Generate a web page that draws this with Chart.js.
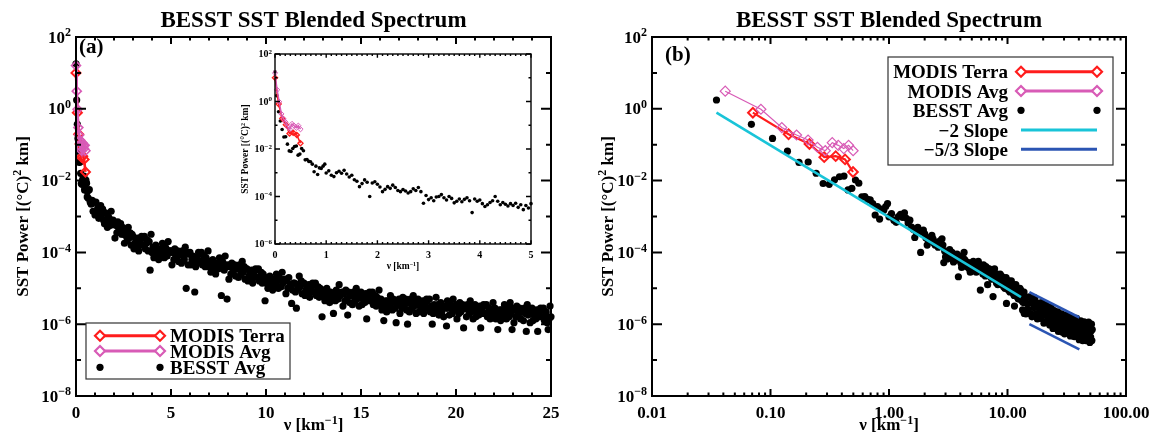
<!DOCTYPE html>
<html>
<head>
<meta charset="utf-8">
<script src="https://cdn.jsdelivr.net/npm/chart.js@4.4.1/dist/chart.umd.min.js"></script>
<style>
  html, body { margin: 0; padding: 0; background: #fff; }
  #wrap { position: relative; width: 1156px; height: 443px; overflow: hidden; }
  canvas { position: absolute; }
</style>
</head>
<body>
<div id="wrap">
  <canvas id="left" width="578" height="443" style="left:0;top:0"></canvas>
  <canvas id="right" width="578" height="443" style="left:578px;top:0"></canvas>
  <canvas id="inset" width="310" height="236" style="left:232px;top:44px"></canvas>
</div>
<script>
const SERIF = '"Liberation Serif", "Times New Roman", serif';
const RED = '#ff1c1c';
const PINK = '#d85bb6';
const CYAN = '#19c4d8';
const BLUE = '#2b55b3';

// MODIS spectra [nu (1/km), power]
const modisTerra = [[0, 10], [0.071, 0.78], [0.142, 0.195], [0.213, 0.105], [0.284, 0.045],
  [0.355, 0.048], [0.426, 0.039], [0.497, 0.0174]];
const modisAvg = [[0, 16], [0.0415, 3.1], [0.083, 0.97], [0.1245, 0.3], [0.166, 0.186],
  [0.2075, 0.135], [0.249, 0.085], [0.29, 0.068], [0.332, 0.114], [0.373, 0.096],
  [0.415, 0.078], [0.456, 0.096], [0.498, 0.068]];

// BESST average spectrum, as shown in panel (b) and the inset
const besstAvg = [
  [0, 18], [0.035, 1.76], [0.069, 0.37], [0.104, 0.15], [0.139, 0.066], [0.174, 0.032],
  [0.208, 0.033], [0.243, 0.016], [0.278, 0.0083], [0.313, 0.0079], [0.347, 0.0105],
  [0.382, 0.0128], [0.417, 0.0134], [0.451, 0.0055], [0.486, 0.0061], [0.521, 0.0104],
  [0.556, 0.0085], [0.590, 0.0035], [0.625, 0.0036], [0.660, 0.0030], [0.694, 0.0029],
  [0.729, 0.0023], [0.764, 0.0011], [0.799, 0.0019], [0.833, 0.00085], [0.868, 0.0016],
  [0.903, 0.0015], [0.938, 0.0019], [0.972, 0.0023],
  [1.00, 9.8e-4], [1.05, 1.2e-3], [1.10, 7.9e-4], [1.15, 6.9e-4], [1.20, 1.0e-3],
  [1.25, 1.15e-3], [1.30, 9.5e-4], [1.35, 1.26e-3], [1.40, 8.9e-4], [1.45, 6.6e-4],
  [1.50, 7.9e-4], [1.55, 5.1e-4], [1.60, 4.4e-4], [1.65, 2.6e-4], [1.70, 3.5e-4],
  [1.75, 5.0e-4], [1.80, 4.0e-4], [1.85, 1.0e-4], [1.90, 3.7e-4], [1.95, 4.2e-4],
  [2.00, 3.3e-4], [2.05, 2.5e-4], [2.10, 1.6e-4], [2.15, 2.0e-4], [2.20, 2.6e-4],
  [2.25, 2.2e-4], [2.30, 3.0e-4], [2.35, 2.4e-4], [2.40, 1.8e-4], [2.45, 1.6e-4],
  [2.50, 1.95e-4], [2.55, 1.7e-4], [2.60, 1.4e-4], [2.65, 1.6e-4], [2.70, 2.1e-4],
  [2.75, 1.8e-4], [2.80, 2.4e-4], [2.85, 1.6e-4], [2.90, 5.2e-5], [2.95, 1.1e-4],
  [3.00, 7.4e-5], [3.05, 8.9e-5], [3.10, 6.6e-5], [3.15, 9.5e-5], [3.20, 1.0e-4],
  [3.25, 1.2e-4], [3.30, 8.9e-5], [3.35, 7.1e-5], [3.40, 1.0e-4], [3.45, 8.3e-5],
  [3.50, 5.4e-5], [3.55, 6.3e-5], [3.60, 7.9e-5], [3.65, 6.0e-5], [3.70, 7.6e-5],
  [3.75, 8.9e-5], [3.80, 6.6e-5], [3.85, 2.1e-5], [3.90, 7.9e-5], [3.95, 6.3e-5],
  [4.00, 7.1e-5], [4.05, 5.0e-5], [4.10, 3.8e-5], [4.15, 4.5e-5], [4.20, 5.6e-5],
  [4.25, 6.6e-5], [4.30, 1.0e-4], [4.35, 6.3e-5], [4.40, 4.5e-5], [4.45, 5.6e-5],
  [4.50, 4.7e-5], [4.55, 4.0e-5], [4.60, 5.0e-5], [4.65, 4.2e-5], [4.70, 5.2e-5],
  [4.75, 3.5e-5], [4.80, 4.5e-5], [4.85, 2.8e-5], [4.90, 4.2e-5], [4.95, 3.3e-5],
  [5.000, 5.0e-5], [5.075, 3.5e-5], [5.150, 5.6e-5], [5.225, 3.2e-5], [5.300, 4.0e-5],
  [5.375, 4.5e-5], [5.450, 2.8e-5], [5.525, 5.0e-5], [5.600, 3.5e-5], [5.675, 5.6e-5],
  [5.750, 3.2e-5], [5.825, 4.5e-5], [5.900, 8.9e-6], [5.975, 3.2e-5],
  [6.050, 3.2e-5], [6.125, 4.0e-5], [6.200, 2.5e-5], [6.275, 4.5e-5], [6.350, 2.8e-5],
  [6.425, 3.5e-5], [6.500, 2.2e-5], [6.575, 4.0e-5], [6.650, 3.2e-5], [6.725, 2.5e-5],
  [6.800, 1.26e-5], [6.875, 3.5e-5], [6.950, 2.8e-5],
  [7.025, 3.5e-5], [7.100, 2.2e-5], [7.175, 2.8e-5], [7.250, 2.0e-5], [7.325, 3.2e-5],
  [7.400, 1.8e-5], [7.475, 2.5e-5], [7.550, 5.9e-6], [7.625, 3.2e-5], [7.700, 2.2e-5],
  [7.775, 3.5e-5], [7.850, 2.0e-5], [7.925, 2.5e-5],
  [8.000, 2.0e-5], [8.075, 1.4e-5], [8.150, 2.5e-5], [8.225, 1.8e-5], [8.300, 1.26e-5],
  [8.375, 2.2e-5], [8.450, 1.6e-5], [8.525, 2.0e-5], [8.600, 1.4e-5], [8.675, 2.5e-5],
  [8.750, 1.6e-5], [8.825, 1.8e-5], [8.900, 2.2e-5], [8.975, 1.26e-5],
  [9.050, 1.8e-5], [9.125, 1.26e-5], [9.200, 2.0e-5], [9.275, 1.1e-5], [9.350, 1.4e-5],
  [9.425, 1.6e-5], [9.500, 1.0e-5], [9.575, 1.8e-5], [9.650, 1.26e-5], [9.725, 2.0e-5],
  [9.800, 3.8e-6], [9.875, 1.1e-5], [9.950, 1.6e-5],
  [10.025, 1.1e-5], [10.100, 1.4e-5], [10.175, 8.9e-6], [10.250, 1.6e-5], [10.325, 1.0e-5],
  [10.400, 1.26e-5], [10.475, 7.9e-6], [10.550, 1.4e-5], [10.625, 1.1e-5], [10.700, 8.9e-6],
  [10.775, 1.6e-5], [10.850, 1.0e-5], [10.925, 1.26e-5],
  [11.000, 1.26e-5], [11.075, 7.9e-6], [11.150, 1.0e-5], [11.225, 7.1e-6], [11.300, 1.1e-5],
  [11.375, 6.3e-6], [11.450, 3.2e-6], [11.525, 8.9e-6], [11.600, 1.1e-5], [11.675, 7.9e-6],
  [11.750, 1.26e-5], [11.825, 7.1e-6], [11.900, 8.9e-6], [11.975, 1.0e-5],
  [12.050, 7.9e-6], [12.125, 5.6e-6], [12.200, 1.0e-5], [12.275, 7.1e-6], [12.350, 5.0e-6],
  [12.425, 8.9e-6], [12.500, 6.3e-6], [12.575, 7.9e-6], [12.650, 5.6e-6], [12.725, 1.0e-5],
  [12.800, 6.3e-6], [12.875, 7.1e-6], [12.950, 8.9e-6],
  [13.025, 7.1e-6], [13.100, 5.0e-6], [13.175, 7.9e-6], [13.250, 4.5e-6], [13.325, 5.6e-6],
  [13.400, 2.5e-6], [13.475, 6.3e-6], [13.550, 4.0e-6], [13.625, 7.1e-6], [13.700, 5.0e-6],
  [13.775, 7.9e-6], [13.850, 2.0e-6], [13.925, 4.5e-6],
  [14.0, 5.6e-6], [14.3, 1.95e-6], [14.6, 3.8e-6], [14.9, 2.6e-6], [15.2, 5.75e-6],
  [15.5, 2.0e-6], [15.8, 3.9e-6], [16.1, 1.6e-6], [16.4, 4.2e-6], [16.7, 2.9e-6],
  [17.0, 5.4e-6], [17.3, 1.95e-6], [17.6, 3.0e-6], [17.9, 1.4e-6], [18.2, 3.9e-6],
  [18.5, 2.1e-6], [18.8, 3.1e-6], [19.1, 1.45e-6], [19.4, 4.0e-6], [19.7, 1.74e-6],
  [20.0, 2.5e-6], [20.3, 1.07e-6], [20.6, 3.0e-6], [20.9, 1.95e-6], [21.2, 3.5e-6],
  [21.5, 1.23e-6], [21.8, 2.3e-6], [22.1, 1.48e-6], [22.4, 2.9e-6], [22.7, 9.5e-7],
  [23.0, 1.86e-6], [23.3, 3.0e-6], [23.6, 1.17e-6], [23.9, 2.1e-6], [24.2, 7.6e-7],
  [24.5, 1.48e-6], [24.8, 2.4e-6], [25.1, 9.5e-7], [25.4, 1.66e-6], [25.7, 7.8e-7],
  [26.0, 2.0e-6], [26.3, 1.1e-6], [26.6, 2.2e-6], [26.9, 6.3e-7], [27.2, 1.4e-6],
  [27.5, 8.7e-7], [27.8, 1.7e-6], [28.1, 7.1e-7], [28.4, 1.1e-6], [28.7, 1.95e-6],
  [29.0, 6.0e-7], [29.3, 1.4e-6], [29.6, 8.7e-7], [29.9, 1.74e-6],
  [30.3, 5.4e-7], [30.7, 1.29e-6], [31.1, 1.8e-6], [31.5, 6.9e-7], [31.9, 1.07e-6],
  [32.3, 5.75e-7], [32.7, 1.48e-6], [33.1, 8.3e-7], [33.5, 1.74e-6], [33.9, 4.7e-7],
  [34.3, 1.17e-6], [34.7, 6.9e-7], [35.1, 1.4e-6], [35.5, 5.4e-7], [35.9, 9.3e-7],
  [36.3, 1.45e-6], [36.7, 4.5e-7], [37.1, 7.6e-7], [37.5, 1.17e-6], [37.9, 5.5e-7],
  [38.3, 1.45e-6], [38.7, 4.6e-7], [39.1, 8.9e-7], [39.5, 6.0e-7], [39.9, 1.2e-6],
  [40.3, 3.7e-7], [40.7, 9.5e-7], [41.1, 5.25e-7], [41.5, 1.23e-6], [41.9, 4.3e-7],
  [42.3, 6.9e-7], [42.7, 1.05e-6], [43.1, 3.5e-7], [43.5, 8.1e-7], [43.9, 5.1e-7],
  [44.3, 1.17e-6], [44.7, 4.2e-7], [45.1, 7.1e-7], [45.5, 9.8e-7], [45.9, 3.5e-7],
  [46.3, 5.6e-7], [46.7, 1.07e-6], [47.1, 4.3e-7], [47.5, 7.9e-7], [47.9, 3.6e-7],
  [48.3, 1.15e-6], [48.7, 5.25e-7], [49.1, 8.3e-7], [49.5, 3.1e-7], [49.9, 9.5e-7],
  [50.3, 4.4e-7], [50.7, 6.5e-7], [51.1, 1.0e-6], [51.5, 3.5e-7], [51.9, 7.1e-7]
];

// BESST average as drawn in panel (a): power in 0.05 1/km bins, 0.60 ... 25.00
const panelANuStart = 0.6;
const panelANuStep = 0.05;
const panelAPower = [
  5.0e-3, 3.2e-3, 5.6e-3, 2.5e-3, 2.2e-3, 2.8e-3, 1.4e-3, 2.5e-3,
  1.1e-3, 2.5e-3, 1.26e-3, 1.8e-3, 8.9e-4, 1.4e-3, 2.0e-3, 1.1e-3, 1.6e-3, 7.9e-4, 6.3e-4, 1.26e-3, 7.9e-4, 5.0e-4, 1.0e-3, 8.9e-4, 5.6e-4, 1.4e-3, 7.1e-4, 7.9e-4,
  6.3e-4, 2.5e-4, 5.6e-4, 3.5e-4, 7.1e-4, 4.0e-4, 4.5e-4, 6.3e-4, 3.2e-4, 5.0e-4, 3.2e-4, 1.8e-4, 4.0e-4, 2.8e-4, 2.2e-4, 5.0e-4, 2.5e-4, 3.5e-4, 1.6e-4, 3.2e-4,
  2.8e-4, 1.26e-4, 1.8e-4, 2.2e-4, 1.4e-4, 2.5e-4, 1.1e-4, 2.0e-4, 1.6e-4, 2.8e-4, 2.5e-4, 1.6e-4, 2.8e-4, 1.26e-4, 1.8e-4, 2.2e-4, 1.1e-4, 2.0e-4, 3.2e-5, 3.2e-4,
  1.0e-4, 1.4e-4, 7.1e-5, 1.1e-4, 1.6e-4, 8.9e-5, 1.26e-4, 6.3e-5, 1.26e-4, 1.1e-4, 8.9e-5, 1.8e-4, 1.1e-4, 7.1e-5, 1.4e-4, 1.26e-4, 7.9e-5, 2.0e-4, 1.0e-4, 1.1e-4,
  1.1e-4, 4.5e-5, 1.0e-4, 6.3e-5, 1.26e-4, 7.1e-5, 7.9e-5, 1.1e-4, 5.6e-5, 8.9e-5, 8.9e-5, 5.0e-5, 1.1e-4, 7.9e-5, 6.3e-5, 1.4e-4, 1.0e-5, 1.0e-4, 4.5e-5, 8.9e-5,
  1.0e-4, 4.5e-5, 6.3e-5, 7.9e-5, 5.0e-5, 7.9e-6, 4.0e-5, 7.1e-5, 5.6e-5, 1.0e-4, 8.9e-5, 5.6e-5, 1.0e-4, 4.5e-5, 6.3e-5, 7.9e-5, 4.0e-5, 7.1e-5, 5.0e-5, 1.1e-4,
  4.0e-5, 5.6e-5, 2.8e-5, 4.5e-5, 6.3e-5, 3.5e-5, 5.0e-5, 2.5e-5, 5.0e-5, 4.5e-5, 3.5e-5, 7.1e-5, 4.5e-5, 6.3e-6, 5.6e-5, 5.0e-5, 3.2e-5, 7.9e-5, 4.0e-5, 5.0e-6,
  4.5e-5, 1.8e-5, 4.0e-5, 2.5e-5, 5.0e-5, 2.8e-5, 3.2e-5, 4.5e-5, 2.2e-5, 3.5e-5, 3.5e-5, 2.0e-5, 4.5e-5, 3.2e-5, 2.5e-5, 5.6e-5, 2.8e-5, 4.0e-5, 1.8e-5, 3.5e-5,
  3.5e-5, 1.6e-5, 2.2e-5, 2.8e-5, 1.8e-5, 3.2e-5, 1.4e-5, 2.5e-5, 2.0e-5, 3.5e-5, 3.2e-5, 2.0e-5, 3.5e-5, 1.6e-5, 2.2e-5, 2.8e-5, 1.4e-5, 2.5e-5, 1.8e-5, 4.5e-6,
  1.4e-5, 2.0e-5, 1.0e-5, 1.6e-5, 2.2e-5, 1.26e-5, 1.8e-5, 8.9e-6, 1.8e-5, 1.6e-5, 1.26e-5, 2.5e-5, 1.6e-5, 1.0e-5, 2.0e-5, 1.8e-5, 1.1e-5, 2.8e-5, 1.4e-5, 1.6e-5,
  1.8e-5, 7.1e-6, 1.6e-5, 1.0e-5, 2.0e-5, 1.1e-5, 1.26e-5, 3.8e-6, 8.9e-6, 1.4e-5, 1.4e-5, 7.9e-6, 2.8e-6, 1.26e-5, 1.0e-5, 2.2e-5, 1.1e-5, 1.6e-5, 7.1e-6, 1.4e-5,
  1.4e-5, 6.3e-6, 8.9e-6, 1.1e-5, 7.1e-6, 1.26e-5, 5.6e-6, 1.0e-5, 7.9e-6, 1.4e-5, 1.26e-5, 7.9e-6, 1.4e-5, 6.3e-6, 8.9e-6, 1.1e-5, 5.6e-6, 1.0e-5, 7.1e-6, 1.6e-6,
  6.3e-6, 8.9e-6, 4.5e-6, 7.1e-6, 1.0e-5, 5.6e-6, 7.9e-6, 4.0e-6, 7.9e-6, 7.1e-6, 5.6e-6, 2.0e-6, 7.1e-6, 4.5e-6, 8.9e-6, 7.9e-6, 5.0e-6, 1.26e-5, 6.3e-6, 7.1e-6,
  7.9e-6, 3.2e-6, 7.1e-6, 4.5e-6, 8.9e-6, 5.0e-6, 1.8e-6, 7.9e-6, 4.0e-6, 6.3e-6, 6.3e-6, 3.5e-6, 7.9e-6, 5.6e-6, 4.5e-6, 1.0e-5, 5.0e-6, 7.1e-6, 3.2e-6, 6.3e-6,
  7.9e-6, 3.5e-6, 5.0e-6, 6.3e-6, 4.0e-6, 7.1e-6, 1.4e-6, 5.6e-6, 4.5e-6, 7.9e-6, 7.1e-6, 4.5e-6, 7.9e-6, 3.5e-6, 5.0e-6, 6.3e-6, 3.2e-6, 5.6e-6, 4.0e-6, 8.9e-6,
  3.5e-6, 5.0e-6, 2.5e-6, 4.0e-6, 1.26e-6, 3.2e-6, 4.5e-6, 2.2e-6, 4.5e-6, 4.0e-6, 3.2e-6, 6.3e-6, 4.0e-6, 2.5e-6, 5.0e-6, 4.5e-6, 2.8e-6, 1.1e-6, 3.5e-6, 4.0e-6,
  5.0e-6, 2.0e-6, 4.5e-6, 2.8e-6, 5.6e-6, 3.2e-6, 3.5e-6, 5.0e-6, 2.5e-6, 1.0e-6, 4.0e-6, 2.2e-6, 5.0e-6, 3.5e-6, 2.8e-6, 6.3e-6, 3.2e-6, 4.5e-6, 2.0e-6, 4.0e-6,
  5.0e-6, 2.2e-6, 3.2e-6, 4.0e-6, 2.5e-6, 4.5e-6, 2.0e-6, 3.5e-6, 2.8e-6, 5.0e-6, 4.5e-6, 2.8e-6, 5.0e-6, 2.2e-6, 3.2e-6, 1.0e-6, 2.0e-6, 3.5e-6, 2.5e-6, 5.6e-6,
  2.5e-6, 3.5e-6, 1.8e-6, 2.8e-6, 4.0e-6, 2.2e-6, 3.2e-6, 1.6e-6, 3.2e-6, 2.8e-6, 8.9e-7, 4.5e-6, 2.8e-6, 1.8e-6, 3.5e-6, 3.2e-6, 2.0e-6, 5.0e-6, 2.5e-6, 2.8e-6,
  3.5e-6, 1.4e-6, 3.2e-6, 2.0e-6, 4.0e-6, 2.2e-6, 2.5e-6, 3.5e-6, 7.9e-7, 2.8e-6, 2.8e-6, 1.6e-6, 3.5e-6, 2.5e-6, 2.0e-6, 4.5e-6, 2.2e-6, 3.2e-6, 1.4e-6, 2.8e-6,
  3.5e-6, 1.6e-6, 2.2e-6, 2.8e-6, 1.8e-6, 3.2e-6, 7.9e-7, 2.5e-6, 2.0e-6, 3.5e-6, 3.2e-6, 2.0e-6, 3.5e-6, 1.6e-6, 2.2e-6, 2.8e-6, 1.4e-6, 2.5e-6, 1.8e-6, 4.0e-6,
  2.0e-6, 2.8e-6, 1.4e-6, 2.2e-6, 7.1e-7, 1.8e-6, 2.5e-6, 1.26e-6, 2.5e-6, 2.2e-6, 1.8e-6, 3.5e-6, 2.2e-6, 1.4e-6, 2.8e-6, 2.5e-6, 1.6e-6, 4.0e-6, 2.0e-6, 7.1e-7,
  2.8e-6, 1.1e-6, 2.5e-6, 1.6e-6, 3.2e-6, 1.8e-6, 2.0e-6, 2.8e-6, 1.4e-6, 2.2e-6, 2.2e-6, 1.26e-6, 2.8e-6, 2.0e-6, 6.3e-7, 3.5e-6, 1.8e-6, 2.5e-6, 1.1e-6, 2.2e-6,
  2.8e-6, 1.26e-6, 1.8e-6, 2.2e-6, 1.4e-6, 2.5e-6, 6.3e-7, 2.0e-6, 1.6e-6, 2.8e-6, 2.5e-6, 1.6e-6, 2.8e-6, 1.26e-6, 1.8e-6, 2.2e-6, 1.1e-6, 7.1e-7, 1.4e-6, 3.2e-6,
  1.6e-6
];

// reference power laws (end points)
const slopeMinus2 = [[0.035, 0.78], [13, 5.65e-6]];
const slopeMinus53Upper = [[15.3, 7.8e-6], [40.4, 1.54e-6]];
const slopeMinus53Lower = [[15.3, 1.0e-6], [40.4, 1.98e-7]];

// ticks
const linTicks = [0, 5, 10, 15, 20, 25];
const insetTicks = [0, 1, 2, 3, 4, 5];
const logTicks = [0.01, 0.1, 1, 10, 100];
const logTickLabels = ['0.01', '0.10', '1.00', '10.00', '100.00'];
const powerExps = [2, 0, -2, -4, -6, -8];
const powerMinorExps = [1, -1, -3, -5, -7];
const insetPowerExps = [2, 0, -2, -4, -6];
const insetPowerMinorExps = [1, -1, -3, -5];

const pts = arr => arr.map(([x, y]) => ({ x, y }));

function rich(ctx, parts, x, y, size, align) {
  const sub = Math.round(size * 0.68);
  const widths = parts.map(p => {
    const s = typeof p === 'string';
    ctx.font = `bold ${s ? size : sub}px ${SERIF}`;
    return ctx.measureText(s ? p : p.sup).width;
  });
  const total = widths.reduce((a, b) => a + b, 0);
  let cx = align === 'right' ? x - total : align === 'center' ? x - total / 2 : x;
  ctx.textAlign = 'left';
  ctx.textBaseline = 'alphabetic';
  parts.forEach((p, i) => {
    const s = typeof p === 'string';
    ctx.font = `bold ${s ? size : sub}px ${SERIF}`;
    ctx.fillText(s ? p : p.sup, cx, s ? y : y - size * 0.36);
    cx += widths[i];
  });
}

const expText = e => (e < 0 ? '\u2212' + (-e) : String(e));
const xTitle = ['\u03bd [km', { sup: '\u22121' }, ']'];
const yTitle = ['SST Power [(\u00b0C)', { sup: '2' }, ' km]'];

function diamond(ctx, x, y, r, color, lw) {
  ctx.beginPath();
  ctx.moveTo(x, y - r); ctx.lineTo(x + r, y); ctx.lineTo(x, y + r); ctx.lineTo(x - r, y);
  ctx.closePath();
  ctx.fillStyle = '#fff'; ctx.fill();
  ctx.strokeStyle = color; ctx.lineWidth = lw; ctx.stroke();
}

function legendSample(ctx, kind, x1, x2, y) {
  ctx.save();
  if (kind === 'dot') {
    ctx.fillStyle = '#000';
    [x1, x2].forEach(x => { ctx.beginPath(); ctx.arc(x, y, 3.6, 0, Math.PI * 2); ctx.fill(); });
  } else {
    const color = { terra: RED, avg: PINK, cyan: CYAN, blue: BLUE }[kind];
    ctx.strokeStyle = color; ctx.lineWidth = 3;
    ctx.beginPath(); ctx.moveTo(x1, y); ctx.lineTo(x2, y); ctx.stroke();
    if (kind === 'terra' || kind === 'avg') {
      diamond(ctx, x1, y, 5, color, 2.2);
      diamond(ctx, x2, y, 5, color, 2.2);
    }
  }
  ctx.restore();
}

function framePlugin(cfg) {
  return {
    id: 'frame',
    afterDraw(chart) {
      const { ctx, chartArea: a } = chart;
      const xs = chart.scales.x, ys = chart.scales.y;
      ctx.save();
      ctx.strokeStyle = '#000';
      ctx.fillStyle = '#000';
      ctx.lineWidth = cfg.lw;
      ctx.beginPath();
      const seg = (x1, y1, x2, y2) => { ctx.moveTo(x1, y1); ctx.lineTo(x2, y2); };
      const xt = (v, len) => { const p = xs.getPixelForValue(v); seg(p, a.bottom, p, a.bottom - len); seg(p, a.top, p, a.top + len); };
      const yt = (v, len) => { const p = ys.getPixelForValue(v); seg(a.left, p, a.left + len, p); seg(a.right, p, a.right - len, p); };
      cfg.xMajor.forEach(v => xt(v, cfg.xLen));
      cfg.xMinor.forEach(v => xt(v, cfg.xLen / 2));
      cfg.yMajor.forEach(e => yt(Math.pow(10, e), cfg.yLen));
      cfg.yMinor.forEach(e => yt(Math.pow(10, e), cfg.yLen / 2));
      ctx.stroke();
      ctx.strokeRect(a.left, a.top, a.right - a.left, a.bottom - a.top);

      cfg.xMajor.forEach((v, i) => rich(ctx, [cfg.xLabels[i]], xs.getPixelForValue(v), a.bottom + cfg.xLabelDy, cfg.fs, 'center'));
      cfg.yMajor.forEach(e => rich(ctx, ['10', { sup: expText(e) }], a.left - cfg.yGap,
        ys.getPixelForValue(Math.pow(10, e)) + cfg.fs * 0.33, cfg.fs, 'right'));

      rich(ctx, xTitle, (a.left + a.right) / 2, cfg.xTitleY, cfg.titleFs, 'center');
      ctx.save();
      ctx.translate(cfg.yTitleX, (a.top + a.bottom) / 2);
      ctx.rotate(-Math.PI / 2);
      rich(ctx, yTitle, 0, cfg.titleFs * 0.33, cfg.titleFs, 'center');
      ctx.restore();

      if (cfg.extra) cfg.extra(ctx, a);
      ctx.restore();
    }
  };
}

function dotSet(data, r) {
  return { data: pts(data), showLine: false, pointRadius: r, pointHoverRadius: r,
    pointBackgroundColor: '#000', pointBorderColor: '#000', pointBorderWidth: 0, clip: false };
}
function modisSet(data, color, lw, r, pbw) {
  return { data: pts(data), showLine: true, borderColor: color, borderWidth: lw,
    pointStyle: 'rectRot', pointRadius: r, pointHoverRadius: r, pointBorderColor: color,
    pointBorderWidth: pbw, pointBackgroundColor: 'rgba(255,255,255,0)', clip: false };
}
function slopeSet(data, color) {
  return { data: pts(data), showLine: true, borderColor: color, borderWidth: 2.6,
    pointRadius: 0, clip: false };
}
function baseOptions(padding, xScale, yScale) {
  return {
    responsive: false, animation: false, events: [],
    layout: { padding },
    plugins: { legend: { display: false }, tooltip: { enabled: false } },
    scales: { x: Object.assign({ display: false }, xScale), y: Object.assign({ display: false }, yScale) }
  };
}

function plotTitle(ctx, x) {
  ctx.font = `bold 23px ${SERIF}`;
  ctx.textAlign = 'center';
  ctx.textBaseline = 'alphabetic';
  ctx.fillStyle = '#000';
  ctx.fillText('BESST SST Blended Spectrum', x, 27);
}

const linMinor = [];
for (let v = 1; v < 25; v++) if (v % 5) linMinor.push(v);
const insetMinor = [];
for (let v = 1; v < 50; v++) if (v % 10) insetMinor.push(v / 10);
const logMinor = [];
[0.01, 0.1, 1, 10].forEach(d => { for (let k = 2; k <= 9; k++) logMinor.push(k * d); });

// ---- panel (a) ----
const panelABand = panelAPower.map((p, i) => [+(panelANuStart + i * panelANuStep).toFixed(2), p]);
const panelABesst = besstAvg.filter(p => p[0] < 0.6).concat(panelABand);
new Chart(document.getElementById('left'), {
  type: 'scatter',
  data: { datasets: [
    modisSet(modisAvg, PINK, 2.4, 4.5, 1.6),
    modisSet(modisTerra, RED, 2.6, 4.5, 2),
    dotSet(panelABesst, 3.6)
  ] },
  options: baseOptions({ left: 76, top: 37, right: 27, bottom: 47 },
    { type: 'linear', min: 0, max: 25 }, { type: 'logarithmic', min: 1e-8, max: 1e2 }),
  plugins: [framePlugin({
    lw: 2, xMajor: linTicks, xMinor: linMinor, yMajor: powerExps, yMinor: powerMinorExps,
    xLen: 7, yLen: 10, fs: 17, titleFs: 17, xLabels: linTicks.map(String), xLabelDy: 22,
    yGap: 5, xTitleY: 430, yTitleX: 22,
    extra(ctx, a) {
      plotTitle(ctx, (a.left + a.right) / 2);
      ctx.fillStyle = '#000';
      ctx.font = `bold 21px ${SERIF}`;
      ctx.textAlign = 'left';
      ctx.fillText('(a)', 79, 53);
      ctx.fillStyle = '#fff';
      ctx.fillRect(86, 323, 204, 56);
      ctx.strokeStyle = '#333'; ctx.lineWidth = 1.2;
      ctx.strokeRect(86, 323, 204, 56);
      const rows = [['terra', 'MODIS Terra', 335.7], ['avg', 'MODIS Avg', 351], ['dot', 'BESST Avg', 367.3]];
      rows.forEach(([k, t, y]) => {
        legendSample(ctx, k, 100, 160, y);
        ctx.fillStyle = '#000';
        rich(ctx, [t], 170, y + 6.5, 19, 'left');
      });
    }
  })]
});

// ---- panel (b) ----
const positive = arr => arr.filter(p => p[0] > 0);
new Chart(document.getElementById('right'), {
  type: 'scatter',
  data: { datasets: [
    slopeSet(slopeMinus2, CYAN),
    slopeSet(slopeMinus53Upper, BLUE),
    slopeSet(slopeMinus53Lower, BLUE),
    modisSet(positive(modisAvg), PINK, 1.2, 5, 1.2),
    modisSet(positive(modisTerra), RED, 2.2, 4.8, 2),
    dotSet(positive(besstAvg), 3.6)
  ] },
  options: baseOptions({ left: 74, top: 37, right: 30, bottom: 47 },
    { type: 'logarithmic', min: 0.01, max: 100 }, { type: 'logarithmic', min: 1e-8, max: 1e2 }),
  plugins: [framePlugin({
    lw: 2, xMajor: logTicks, xMinor: logMinor, yMajor: powerExps, yMinor: powerMinorExps,
    xLen: 7, yLen: 10, fs: 17, titleFs: 17, xLabels: logTickLabels, xLabelDy: 22,
    yGap: 5, xTitleY: 430, yTitleX: 29,
    extra(ctx, a) {
      plotTitle(ctx, (a.left + a.right) / 2);
      ctx.fillStyle = '#000';
      ctx.font = `bold 21px ${SERIF}`;
      ctx.textAlign = 'left';
      ctx.fillText('(b)', 87, 61);
      ctx.fillStyle = '#fff';
      ctx.fillRect(310, 57, 225, 108);
      ctx.strokeStyle = '#333'; ctx.lineWidth = 1.2;
      ctx.strokeRect(310, 57, 225, 108);
      const rows = [['terra', 'MODIS Terra', 71.7], ['avg', 'MODIS Avg', 91], ['dot', 'BESST Avg', 110.3],
        ['cyan', '\u22122 Slope', 130], ['blue', '\u22125/3 Slope', 149.3]];
      rows.forEach(([k, t, y]) => {
        legendSample(ctx, k, 443, 519, y);
        ctx.fillStyle = '#000';
        rich(ctx, [t], 430, y + 6.5, 19, 'right');
      });
    }
  })]
});

// ---- inset of panel (a) ----
new Chart(document.getElementById('inset'), {
  type: 'scatter',
  data: { datasets: [
    modisSet(modisAvg, PINK, 1.4, 2.6, 1),
    modisSet(modisTerra, RED, 1.6, 2.6, 1.3),
    dotSet(besstAvg.filter(p => p[0] <= 5), 1.8)
  ] },
  options: baseOptions({ left: 43, top: 10, right: 11, bottom: 36 },
    { type: 'linear', min: 0, max: 5 }, { type: 'logarithmic', min: 1e-6, max: 1e2 }),
  plugins: [framePlugin({
    lw: 1.4, xMajor: insetTicks, xMinor: insetMinor, yMajor: insetPowerExps, yMinor: insetPowerMinorExps,
    xLen: 3.8, yLen: 5, fs: 10, titleFs: 9.5, xLabels: insetTicks.map(String), xLabelDy: 14,
    yGap: 3, xTitleY: 225, yTitleX: 13
  })]
});
</script>
</body>
</html>
